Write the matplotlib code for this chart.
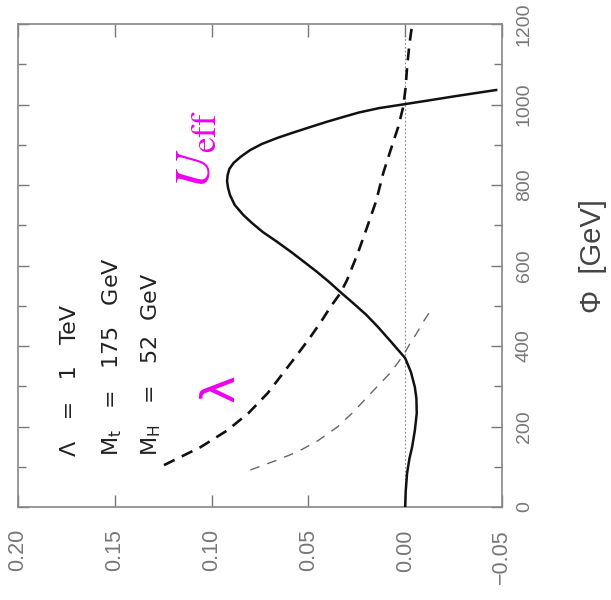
import numpy as np
import matplotlib
matplotlib.use('Agg')
import matplotlib.pyplot as plt
from matplotlib.ticker import MultipleLocator

plt.rcParams['font.family'] = ['Liberation Sans', 'DejaVu Sans']

# effective potential U_eff(phi), phi in GeV
phi_u = [0, 40, 84, 120, 149, 190, 233, 270, 298, 335, 370, 410, 447, 477, 505, 532,
         560, 584, 610, 634, 660, 683, 705, 725, 750, 775, 793, 810, 825, 840, 855,
         870, 887, 902, 917, 930, 944, 957, 969, 980, 991, 1001, 1010, 1020, 1028, 1036]
u_eff = [0.0, -0.0003, -0.001, -0.0022, -0.0036, -0.005, -0.006, -0.0058, -0.005, -0.003,
         0.0, 0.0072, 0.0140, 0.0200, 0.0265, 0.0330, 0.0395, 0.0455, 0.0525, 0.0590,
         0.0665, 0.0735, 0.0790, 0.0835, 0.0880, 0.0905, 0.0915, 0.0920, 0.0917, 0.0908,
         0.0886, 0.0850, 0.0800, 0.0740, 0.0660, 0.0580, 0.0490, 0.0405, 0.0320, 0.0240,
         0.0135, 0.0, -0.012, -0.025, -0.036, -0.047]

# running quartic coupling lambda(phi)
phi_lam = [104, 149, 190, 233, 283, 333, 380, 422, 460, 497, 531, 564, 630, 696,
           760, 830, 890, 944, 994, 1040, 1093, 1150, 1198]
lam = [0.1246, 0.1056, 0.092, 0.081, 0.071, 0.063, 0.0555, 0.049, 0.0435, 0.0386, 0.0335,
       0.030, 0.0245, 0.0196, 0.0150, 0.0113, 0.0073, 0.0036, 0.001, -0.0002, -0.001,
       -0.0022, -0.0036]

# lambda for the second parameter choice (thin dashed)
phi_lam2 = [92, 115, 137, 165, 199, 235, 273, 305, 333, 360, 385, 410, 432, 465, 497]
lam2 = [0.080, 0.067, 0.0556, 0.045, 0.035, 0.027, 0.0196, 0.0133, 0.0077, 0.0035,
        0.0, -0.003, -0.006, -0.010, -0.0144]

val_ticks = [0.20, 0.15, 0.10, 0.05, 0.00, -0.05]
val_labels = ['0.20', '0.15', '0.10', '0.05', '0.00', '\u22120.05']
phi_ticks = [0, 200, 400, 600, 800, 1000, 1200]

fig = plt.figure(figsize=(6.11, 6.00), dpi=100)
ax = fig.add_axes([0.0295, 0.155, 0.792, 0.805])

# plot drawn on its side: value runs right-to-left, phi runs upward
ax.axvline(0.0, color='#888888', lw=0.8, ls=(0, (1.5, 2)), zorder=1)
ax.plot(lam2, phi_lam2, color='#666666', lw=1.0, ls=(0, (7, 6)), zorder=2)
ax.plot(lam, phi_lam, color='#111111', lw=1.9, ls=(0, (4.5, 3.0)), zorder=3)
ax.plot(u_eff, phi_u, color='#111111', lw=1.8, zorder=4)

ax.set_xlim(0.20, -0.05)
ax.set_ylim(0, 1200)

ax.set_xticks(val_ticks)
ax.set_xticklabels(val_labels, rotation=90)
ax.set_yticks(phi_ticks)
ax.set_yticklabels([str(t) for t in phi_ticks], rotation=90, va='center')
ax.yaxis.set_minor_locator(MultipleLocator(100))
ax.yaxis.tick_right()
ax.tick_params(axis='both', which='both', direction='in', top=True, bottom=True,
               left=True, right=True, color='#777777', width=1.0)
ax.tick_params(axis='x', which='major', length=9, pad=16, labelsize=15.5, labelcolor='#777777')
ax.tick_params(axis='y', which='major', length=8, pad=10, labelsize=14, labelcolor='#777777')
ax.tick_params(axis='y', which='minor', length=6)
for sp in ax.spines.values():
    sp.set_color('#888888')
    sp.set_linewidth(1.2)

ax.yaxis.set_label_position('right')
ax.set_ylabel('\u03a6  [GeV]', fontsize=21, color='#444444', rotation=90)
ax.yaxis.set_label_coords(1.16, 0.52)

# parameter block
params = ['\u039b   =   1   TeV', r'M$_{\mathrm{t}}$   =   175   GeV',
          r'M$_{\mathrm{H}}$   =   52  GeV']
for xv, s in zip([0.173, 0.1515, 0.131], params):
    ax.text(xv, 127, s, rotation=90, ha='center', va='bottom', fontsize=16,
            color='#222222', family='DejaVu Sans', math_fontfamily='dejavusans')

ax.text(0.108, 887, r'$U_{\mathrm{eff}}$', rotation=90, ha='center', va='center',
        fontsize=36, color='#ee00ee', math_fontfamily='stix')
ax.text(0.095, 296, '\u03bb', rotation=90, ha='center', va='center',
        fontsize=34, color='#ee00ee', family='DejaVu Sans')

fig.savefig('out.png', dpi=100)
